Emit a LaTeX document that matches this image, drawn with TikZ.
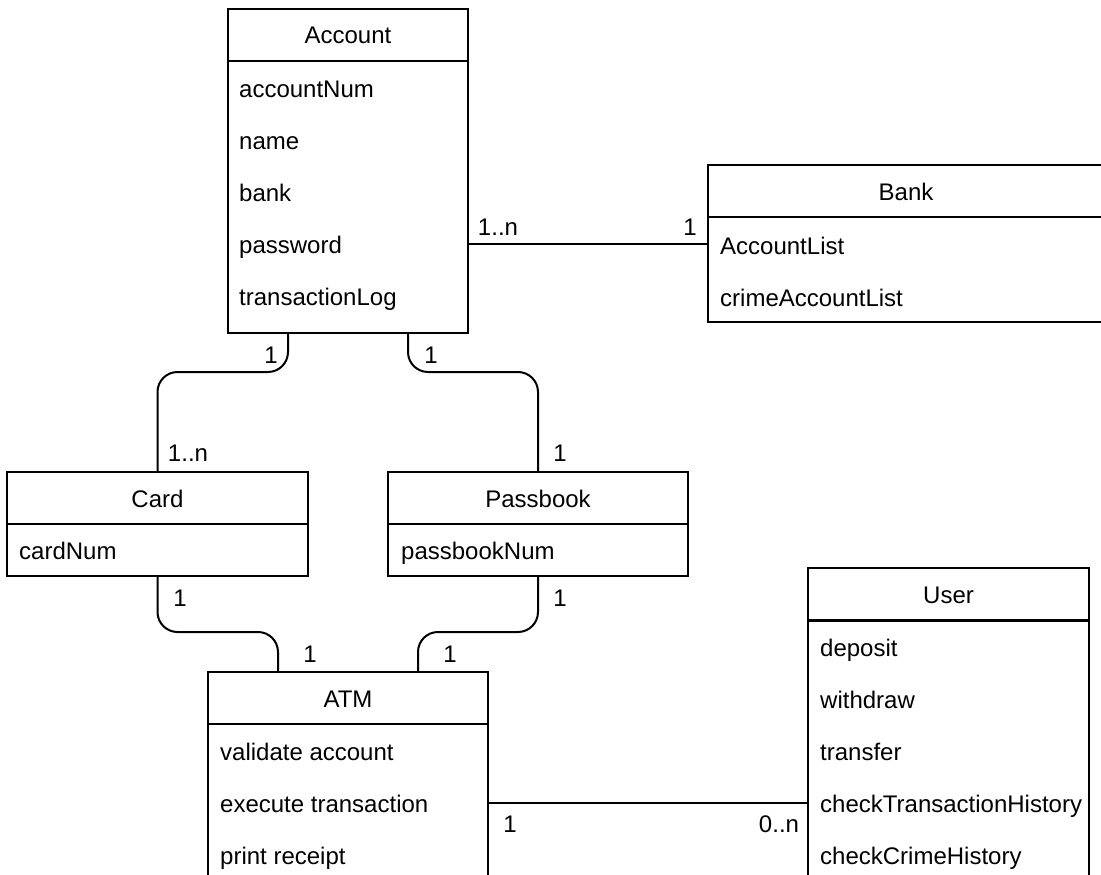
\documentclass[tikz,border=0pt]{standalone}
\usepackage{fontspec}
\setmainfont{Liberation Sans}
\usetikzlibrary{calc}
\tikzset{
  every node/.style={font=\fontsize{24pt}{28pt}\selectfont, text=black},
  box/.style={draw=black, line width=2pt, inner sep=0pt, outer sep=0pt, anchor=north west},
  head/.style={box, minimum height=52pt, text height=18pt, text depth=0pt},
  item/.style={anchor=base west, inner sep=0pt},
  mult/.style={anchor=base, inner sep=0pt},
  conn/.style={draw=black, line width=2pt, rounded corners=20pt},
}
\begin{document}
\begin{tikzpicture}[x=1pt,y=-1pt]
\path[use as bounding box] (0,0) rectangle (1101,875);
\clip (0,0) rectangle (1101,875);
\fill[white] (0,0) rectangle (1101,875);

% Account
\node[head, minimum width=240pt] (acch) at (228,9) {Account};
\node[box, minimum width=240pt, minimum height=272pt] (accb) at (228,61) {};
\node[item] (acc1) at (239,97) {accountNum};
\node[item] (acc2) at (239,149) {name};
\node[item] (acc3) at (239,201) {bank};
\node[item] (acc4) at (239,253) {password};
\node[item] (acc5) at (239,305) {transactionLog};

% Bank
\node[head, minimum width=396pt] (bankh) at (708,165) {Bank};
\node[box, minimum width=396pt, minimum height=105pt] (bankb) at (708,217) {};
\node[item] (bank1) at (720,254) {AccountList};
\node[item] (bank2) at (720,306) {crimeAccountList};

% Card
\node[head, minimum width=301pt] (cardh) at (7,472) {Card};
\node[box, minimum width=301pt, minimum height=52pt] (cardb) at (7,524) {};
\node[item] (card1) at (19,559) {cardNum};

% Passbook
\node[head, minimum width=300pt] (passh) at (388,472) {Passbook};
\node[box, minimum width=300pt, minimum height=52pt] (passb) at (388,524) {};
\node[item] (pass1) at (401,559) {passbookNum};

% ATM
\node[head, minimum width=280pt] (atmh) at (208,672) {ATM};
\node[box, minimum width=280pt, minimum height=200pt] (atmb) at (208,724) {};
\node[item] (atm1) at (220,760) {validate account};
\node[item] (atm2) at (220,812) {execute transaction};
\node[item] (atm3) at (220,864) {print receipt};

% User
\node[head, minimum width=281pt] (userh) at (808,568) {User};
\node[box, minimum width=281pt, minimum height=300pt] (userb) at (808,621) {};
\node[item] (user1) at (820,656) {deposit};
\node[item] (user2) at (820,708) {withdraw};
\node[item] (user3) at (820,760) {transfer};
\node[item] (user4) at (820,812) {checkTransactionHistory};
\node[item] (user5) at (820,864) {checkCrimeHistory};

% connector anchor points
\coordinate (accL) at ($(accb.south west)!0.25!(accb.south east)$);
\coordinate (accR) at ($(accb.south west)!0.75!(accb.south east)$);
\coordinate (atmL) at ($(atmh.north west)!0.25!(atmh.north east)$);
\coordinate (atmR) at ($(atmh.north west)!0.75!(atmh.north east)$);
\coordinate (ab) at ($(accb.north east)+(0,183)$);
\coordinate (au) at ($(atmb.north east)+(0,79)$);

% connectors
\draw[conn] (ab) -- (ab -| bankb.west);
\draw[conn] (accL) -- ++(0,39) -| (cardh.north);
\draw[conn] (accR) -- ++(0,39) -| (passh.north);
\draw[conn] (cardb.south) -- ++(0,56) -| (atmL);
\draw[conn] (passb.south) -- ++(0,56) -| (atmR);
\draw[conn] (au) -- (au -| userb.west);

% multiplicities
\node[mult] (m1) at (498,235) {1..n};
\node[mult] (m2) at (690,235) {1};
\node[mult] (m3) at (271,363) {1};
\node[mult] (m4) at (431,363) {1};
\node[mult] (m5) at (188,461) {1..n};
\node[mult] (m6) at (560,461) {1};
\node[mult] (m7) at (180,606) {1};
\node[mult] (m8) at (560,606) {1};
\node[mult] (m9) at (310,662) {1};
\node[mult] (m10) at (450,662) {1};
\node[mult] (m11) at (510,832) {1};
\node[mult] (m12) at (779,832) {0..n};
\end{tikzpicture}
\end{document}
